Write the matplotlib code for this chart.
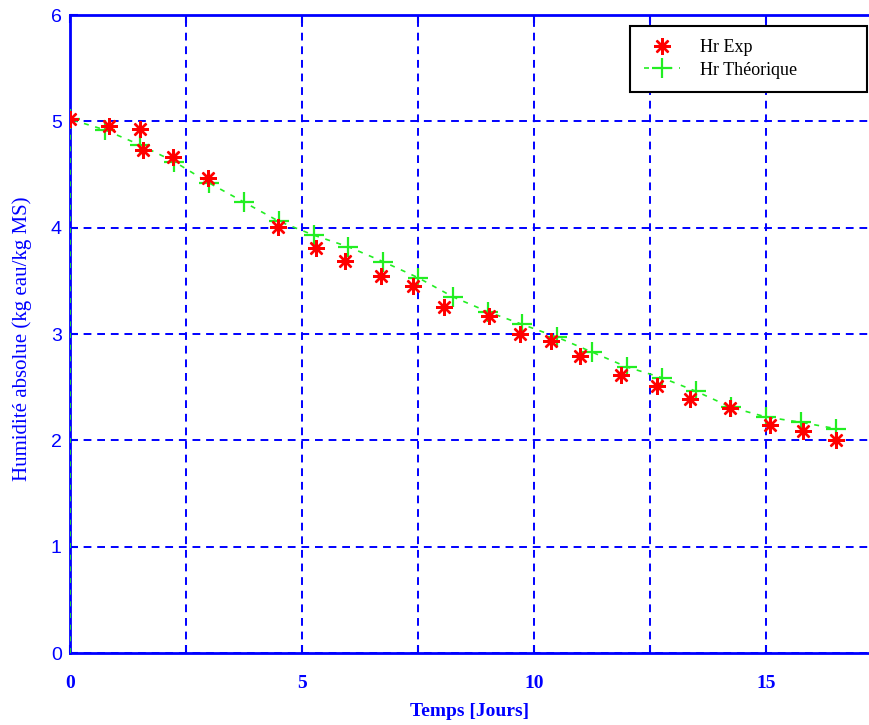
import numpy as np
import matplotlib.pyplot as plt

# experimental values (red stars)
t_exp = [0.0, 0.84, 1.51, 1.57, 2.22, 2.97, 4.48, 5.30, 5.93, 6.70, 7.39, 8.06,
         9.03, 9.70, 10.37, 10.99, 11.88, 12.65, 13.36, 14.22, 15.09, 15.80, 16.51]
hr_exp = [5.02, 4.96, 4.93, 4.73, 4.66, 4.47, 4.01, 3.81, 3.69, 3.55, 3.45, 3.25,
          3.17, 3.00, 2.93, 2.79, 2.61, 2.51, 2.39, 2.30, 2.14, 2.09, 2.00]

# theoretical curve (green +), starts from (0,0)
t_th = [0.0, 0.0, 0.75, 1.5, 2.25, 3.0, 3.75, 4.5, 5.25, 6.0, 6.75, 7.5, 8.25,
        9.0, 9.75, 10.5, 11.25, 12.0, 12.75, 13.5, 14.25, 15.0, 15.75, 16.5]
hr_th = [0.0, 5.02, 4.92, 4.78, 4.62, 4.42, 4.24, 4.06, 3.93, 3.82, 3.68, 3.53, 3.35,
         3.21, 3.09, 2.97, 2.83, 2.69, 2.59, 2.46, 2.31, 2.22, 2.17, 2.11]

xticks = [0, 2.5, 5, 7.5, 10, 12.5, 15]
xticklabels = ['0', '', '5', '', '10', '', '15']
yticks = [0, 1, 2, 3, 4, 5, 6]

blue = '#0000ff'

fig = plt.figure(figsize=(8.69, 7.25), dpi=100)
ax = fig.add_axes([0.0806, 0.0993, 0.9194, 0.8800])

ax.plot(t_exp, hr_exp, linestyle='none', marker=(8, 2, 0), markersize=12,
        markeredgewidth=1.7, color='#ff0000', label='Hr Exp', zorder=4)
ax.plot(t_th, hr_th, linestyle=(0, (3, 4)), linewidth=1.2, color='#22ee22',
        marker='+', markersize=15, markeredgewidth=1.6, markevery=slice(1, None),
        label='Hr Théorique', zorder=3)

ax.set_xlim(0, 17.22)
ax.set_ylim(0, 6)
ax.set_xticks(xticks)
ax.set_xticklabels(xticklabels, fontfamily='Liberation Serif', fontweight='bold',
                   fontsize=14, color=blue)
ax.set_yticks(yticks)
ax.set_yticklabels([str(v) for v in yticks], fontfamily='Liberation Sans',
                   fontsize=14, color=blue)
ax.tick_params(axis='both', direction='in', length=6, width=1.5, color=blue,
               top=True, right=False)
ax.tick_params(axis='x', pad=16)
ax.tick_params(axis='y', pad=6)

ax.grid(True, color=blue, linestyle=(0, (4, 3)), linewidth=1.4)
for side in ['left', 'top', 'bottom']:
    ax.spines[side].set_color(blue)
    ax.spines[side].set_linewidth(2)
ax.spines['right'].set_visible(False)

ax.set_xlabel('Temps [Jours]', fontfamily='Liberation Serif', fontweight='bold',
              fontsize=14, color=blue, labelpad=8)
ax.set_ylabel('Humidité absolue (kg eau/kg MS)', fontfamily='Liberation Serif',
              fontsize=15, color=blue)
ax.yaxis.set_label_coords(-0.048, 0.492)

leg = ax.legend(loc='upper left', bbox_to_anchor=(0.701, 0.880, 0.2966, 0.103),
                mode='expand', fancybox=False, framealpha=1, edgecolor='black',
                borderpad=0.75, handlelength=2.0, handletextpad=1.1,
                labelspacing=0.3, borderaxespad=0,
                prop={'family': 'Liberation Serif', 'size': 13})
leg.get_frame().set_linewidth(1.5)

plt.savefig('out.png', dpi=100)
